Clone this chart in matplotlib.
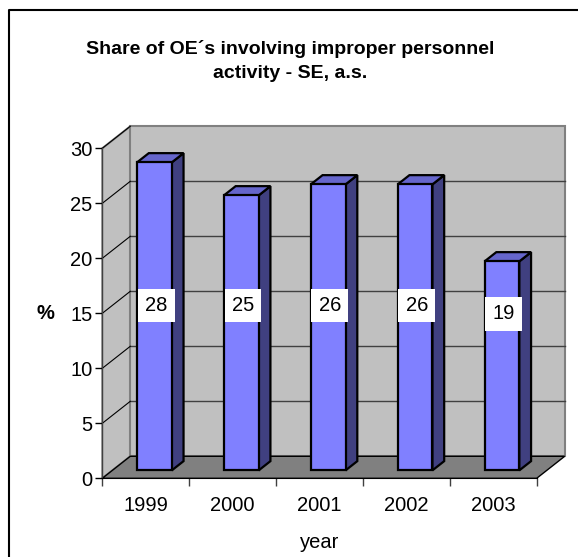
import matplotlib
matplotlib.use("Agg")
import matplotlib.pyplot as plt
from matplotlib.patches import Polygon
from matplotlib.lines import Line2D

plt.rcParams["font.family"] = ["Liberation Sans", "DejaVu Sans"]

# data
years = ["1999", "2000", "2001", "2002", "2003"]
share = [28, 25, 26, 26, 19]
yticks = [0, 5, 10, 15, 20, 25, 30]

# pseudo-3D geometry (category units / value units)
DX, DY = 0.322, 2.0          # depth of the plot box
BAR_F, BAR_D = 0.36, 0.42    # bar front depth fraction, bar depth fraction
BAR_L, BAR_W = 0.284, 0.40   # bar left offset inside category, bar width
LABEL_Y = [15.7, 15.7, 15.7, 15.7, 14.95]
FS = 14.5

W, H = 578, 557
fig = plt.figure(figsize=(W / 100, H / 100), dpi=100)
ax = fig.add_axes([102.3 / W, (H - 478.3) / H, 434.4 / W, 330 / H])
ax.set_xlim(0, len(years))
ax.set_ylim(0, 30)
for s in ("top", "right"):
    ax.spines[s].set_visible(False)
ax.spines["left"].set_color("#404040")
ax.spines["bottom"].set_color("black")
ax.patch.set_visible(False)

n = len(years)
grey = "#c0c0c0"
edge = "#808080"
# left wall, back wall, floor
ax.add_patch(Polygon([(0, 0), (DX, DY), (DX, 30 + DY), (0, 30)], closed=True,
                     fc=grey, ec=edge, lw=1.5, clip_on=False, zorder=0))
ax.add_patch(Polygon([(DX, DY), (n + DX, DY), (n + DX, 30 + DY), (DX, 30 + DY)],
                     closed=True, fc=grey, ec=edge, lw=1.5, clip_on=False, zorder=0))
ax.add_patch(Polygon([(0, 0), (n, 0), (n + DX, DY), (DX, DY)], closed=True,
                     fc="#808080", ec="black", lw=1, clip_on=False, zorder=0.5))
for v in yticks[1:-1]:
    ax.plot([DX, n + DX], [v + DY, v + DY], color="#404040", lw=1, zorder=0.6,
            clip_on=False)
for v in yticks[1:]:
    ax.plot([0, DX], [v, v + DY], color="black", lw=0.8, zorder=0.6, clip_on=False)

# bars
sx, sy = BAR_F * DX, BAR_F * DY
sx2, sy2 = (BAR_F + BAR_D) * DX, (BAR_F + BAR_D) * DY
for i, v in enumerate(share):
    x0 = i + BAR_L
    x1 = x0 + BAR_W
    kw = dict(closed=True, ec="black", lw=1.6, clip_on=False, zorder=2, joinstyle="miter")
    ax.add_patch(Polygon([(x1 + sx, sy), (x1 + sx2, sy2), (x1 + sx2, v + sy2),
                          (x1 + sx, v + sy)], fc="#404080", **kw))
    ax.add_patch(Polygon([(x0 + sx, v + sy), (x1 + sx, v + sy), (x1 + sx2, v + sy2),
                          (x0 + sx2, v + sy2)], fc="#6666cc", **kw))
    ax.add_patch(Polygon([(x0 + sx, sy), (x1 + sx, sy), (x1 + sx, v + sy),
                          (x0 + sx, v + sy)], fc="#8080ff", **kw))
    ax.text(x0 + sx + BAR_W / 2 + 0.02, LABEL_Y[i], str(v), ha="center", va="center",
            fontsize=FS, zorder=3,
            bbox=dict(boxstyle="square,pad=0.36", fc="white", ec="none"))

ax.set_yticks(yticks)
ax.set_xticks(range(n + 1))
ax.set_xticklabels([])
ax.set_xticks([i + 0.5 for i in range(n)], minor=True)
ax.set_xticklabels(years, minor=True)
ax.tick_params(axis="x", which="minor", length=0, pad=13, labelsize=FS)
ax.tick_params(axis="x", which="major", length=6, width=1, color="#404040")
ax.tick_params(axis="y", length=5, width=1, labelsize=FS, pad=2)
ax.set_ylabel("%", fontsize=FS, fontweight="bold", rotation=0, labelpad=18, va="center")
ax.set_xlabel("year", fontsize=FS, labelpad=13)

fig.text(290 / W, 1 - 61 / H, "Share of OE\u00b4s involving improper personnel\nactivity - SE, a.s.",
         ha="center", va="center", fontsize=14, fontweight="bold", linespacing=1.55)

# outer frame (only top and left edges are inside the picture)
fig.add_artist(Line2D([9 / W, 9 / W, 1.01], [-0.01, 1 - 10 / H, 1 - 10 / H],
                      transform=fig.transFigure, color="black", lw=1.5))

fig.savefig("out.png", dpi=100)
